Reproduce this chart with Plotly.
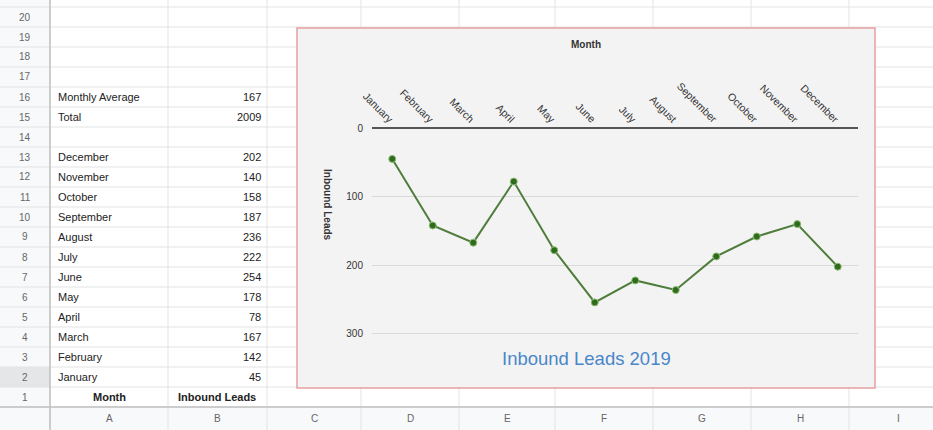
import plotly.graph_objects as go

# ---- data ----
months = ["January", "February", "March", "April", "May", "June",
          "July", "August", "September", "October", "November", "December"]
leads = [45, 142, 167, 78, 178, 254, 222, 236, 187, 158, 140, 202]
col_letters = ["A", "B", "C", "D", "E", "F", "G", "H", "I"]
y_ticks = [0, 100, 200, 300]

total = sum(leads)
average = round(total / len(leads))

W, H = 933, 430


def px(x):
    return x / W


def py(y):
    return 1 - y / H


fig = go.Figure()

fig.add_trace(go.Scatter(
    x=months, y=leads, mode="lines+markers",
    line=dict(color="#4f7d3c", width=2),
    marker=dict(size=7, color="#2f6b1c", line=dict(color="#8fbf74", width=1)),
    hoverinfo="x+y", showlegend=False,
))

shapes = []
annotations = []


def note(x, y, text, font, xanchor="center", **kw):
    annotations.append(dict(x=px(x), y=py(y), xref="paper", yref="paper", text=text,
                            showarrow=False, font=font, xanchor=xanchor,
                            yanchor="middle", **kw))


# ---- spreadsheet grid ----
col_edges = [50, 168, 267, 361, 459, 555, 653, 751, 849, 947]
row_top = 407          # top edge of the column-letter band
row_h = 20

# row-number column and column-letter band backgrounds
shapes.append(dict(type="rect", xref="paper", yref="paper", layer="below",
                   x0=0, x1=px(50), y0=0, y1=1, fillcolor="#f8f9fa",
                   line=dict(width=0)))
shapes.append(dict(type="rect", xref="paper", yref="paper", layer="below",
                   x0=0, x1=1, y0=0, y1=py(row_top), fillcolor="#f8f9fa",
                   line=dict(width=0)))
# highlighted row number (row 2)
shapes.append(dict(type="rect", xref="paper", yref="paper", layer="below",
                   x0=0, x1=px(50), y0=py(row_top - row_h), y1=py(row_top - 2 * row_h),
                   fillcolor="#e4e6e8", line=dict(width=0)))

for k in range(0, 21):
    y = row_top - k * row_h
    shapes.append(dict(type="line", xref="paper", yref="paper", layer="below",
                       x0=0, x1=1, y0=py(y), y1=py(y),
                       line=dict(color="#e2e3e3", width=1)))
for x in col_edges:
    shapes.append(dict(type="line", xref="paper", yref="paper", layer="below",
                       x0=px(x), x1=px(x), y0=0, y1=1,
                       line=dict(color="#e2e3e3", width=1)))
shapes.append(dict(type="line", xref="paper", yref="paper", layer="below",
                   x0=px(50), x1=px(50), y0=0, y1=1,
                   line=dict(color="#c0c0c0", width=1.5)))
shapes.append(dict(type="line", xref="paper", yref="paper", layer="below",
                   x0=0, x1=1, y0=py(row_top), y1=py(row_top),
                   line=dict(color="#c0c0c0", width=1.5)))

cell_font = dict(family="Liberation Sans, Arial, sans-serif", size=11, color="#222")
head_font = dict(family="Liberation Sans, Arial, sans-serif", size=10, color="#666")


def row_center(k):
    return row_top - k * row_h + row_h / 2


# column letters
for i, letter in enumerate(col_letters):
    xc = (col_edges[i] + col_edges[i + 1]) / 2
    note(xc, (row_top + H) / 2, letter, head_font)
# row numbers
for k in range(1, 21):
    note(25, row_center(k), str(k), head_font)

# table contents
table_rows = {1: ("<b>Month</b>", "<b>Inbound Leads</b>")}
for i, (m, v) in enumerate(zip(months, leads)):
    table_rows[2 + i] = (m, str(v))
table_rows[15] = ("Total", str(total))
table_rows[16] = ("Monthly Average", str(average))

for k, (a, b) in table_rows.items():
    yc = row_center(k)
    if k == 1:
        note(109, yc, a, cell_font)
        note(217, yc, b, cell_font)
    else:
        note(56, yc, a, cell_font, xanchor="left")
        note(263, yc, b, cell_font, xanchor="right")

# ---- chart box ----
shapes.append(dict(type="rect", xref="paper", yref="paper", layer="below",
                   x0=px(297), x1=px(875), y0=py(388), y1=py(28),
                   fillcolor="#f3f3f3", line=dict(color="#e8a0a0", width=1.5)))

chart_font = "Liberation Sans, Arial, sans-serif"
note(586, 358, "Inbound Leads 2019", dict(family=chart_font, size=18.5, color="#4a86c8"))
note(586, 45, "<b>Month</b>", dict(family=chart_font, size=10, color="#333"))
note(327, 205, "<b>Inbound Leads</b>", dict(family=chart_font, size=10, color="#333"),
     textangle=90)

fig.update_layout(
    width=W, height=H, margin=dict(l=0, r=0, t=0, b=0, autoexpand=False),
    paper_bgcolor="white", plot_bgcolor="rgba(0,0,0,0)",
    shapes=shapes, annotations=annotations,
    xaxis=dict(domain=[px(372), px(858)], side="top", tickangle=45,
               range=[-0.5, 11.5], showgrid=False, showline=False, automargin=False,
               ticks="", tickfont=dict(family=chart_font, size=10.5, color="#333"),
               anchor="y"),
    yaxis=dict(domain=[py(337.4), py(128)], range=[305, 0], tickvals=y_ticks,
               showgrid=True, gridcolor="#d9d9d9", gridwidth=1, automargin=False,
               zeroline=True, zerolinecolor="#555", zerolinewidth=1.5,
               tickfont=dict(family=chart_font, size=10, color="#333"),
               ticks="", ticklabelstandoff=8),
)

fig.write_html("out.html")
